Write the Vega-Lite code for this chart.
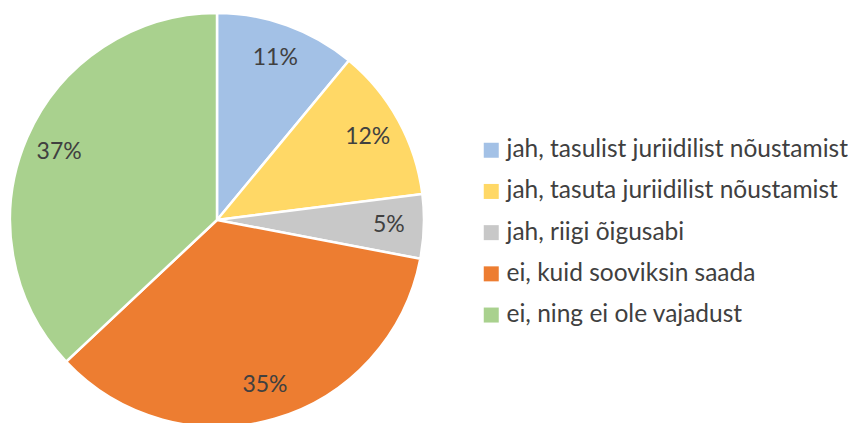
{
  "$schema": "https://vega.github.io/schema/vega-lite/v6.json",
  "width": 434,
  "height": 440,
  "autosize": {"type": "pad"},
  "padding": {"left": 0, "top": 0, "right": 0, "bottom": -17},
  "data": {
    "values": [
      {"category": "jah, tasulist juriidilist nõustamist", "value": 11, "order": 1, "label": "11%"},
      {"category": "jah, tasuta juriidilist nõustamist", "value": 12, "order": 2, "label": "12%"},
      {"category": "jah, riigi õigusabi", "value": 5, "order": 3, "label": "5%"},
      {"category": "ei, kuid sooviksin saada", "value": 35, "order": 4, "label": "35%"},
      {"category": "ei, ning ei ole vajadust", "value": 37, "order": 5, "label": "37%"}
    ]
  },
  "layer": [
    {
      "mark": {"type": "arc", "outerRadius": 207, "stroke": "white", "strokeWidth": 2.5},
      "encoding": {
        "theta": {"field": "value", "type": "quantitative", "stack": true},
        "order": {"field": "order", "type": "quantitative"},
        "color": {
          "field": "category",
          "type": "nominal",
          "scale": {
            "domain": ["jah, tasulist juriidilist nõustamist", "jah, tasuta juriidilist nõustamist", "jah, riigi õigusabi", "ei, kuid sooviksin saada", "ei, ning ei ole vajadust"],
            "range": ["#A3C1E6", "#FFD866", "#C8C8C8", "#ED7D31", "#A9D18E"]
          },
          "legend": {
            "orient": "none",
            "legendX": 479,
            "legendY": 138,
            "title": null,
            "symbolType": "square",
            "symbolSize": 225,
            "symbolStrokeWidth": 0,
            "labelFont": "Lato",
            "labelFontSize": 24.5,
            "labelColor": "#404040",
            "labelLimit": 0,
            "labelOffset": 3,
            "rowPadding": 16.2
          }
        }
      }
    },
    {
      "mark": {"type": "text", "radius": 172, "fontSize": 23, "font": "Lato", "fill": "#404040"},
      "encoding": {
        "theta": {"field": "value", "type": "quantitative", "stack": true},
        "order": {"field": "order", "type": "quantitative"},
        "detail": {"field": "category", "type": "nominal"},
        "text": {"field": "label", "type": "nominal"}
      }
    }
  ],
  "config": {"view": {"stroke": null}, "background": "white"}
}
